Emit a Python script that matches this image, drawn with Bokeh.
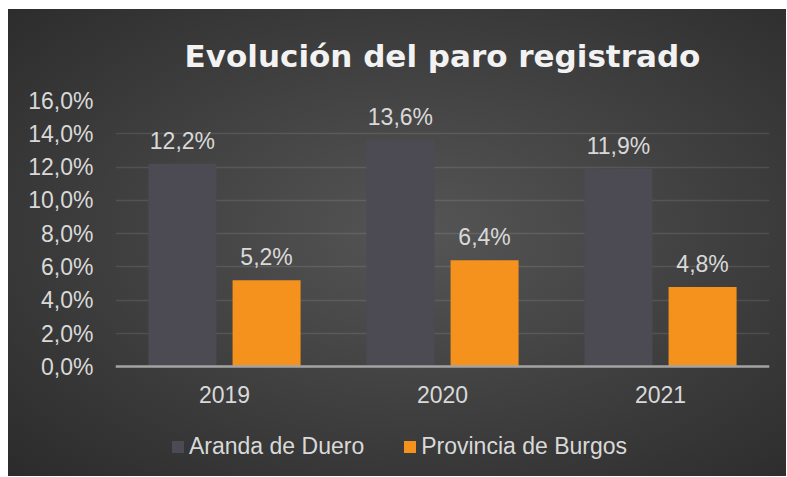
from bokeh.plotting import figure
from bokeh.models import (ColumnDataSource, FactorRange, FixedTicker, Legend,
                          LegendItem, Range1d)
from bokeh.transform import dodge
from bokeh.embed import file_html
from bokeh.resources import INLINE
from bokeh.core.properties import value

# ---- data ----
years = ["2019", "2020", "2021"]
aranda = [12.2, 13.6, 11.9]
burgos = [5.2, 6.4, 4.8]
series_names = ["Aranda de Duero", "Provincia de Burgos"]
y_ticks = [0, 2, 4, 6, 8, 10, 12, 14, 16]
y_tick_labels = ["0,0%", "2,0%", "4,0%", "6,0%", "8,0%", "10,0%", "12,0%", "14,0%", "16,0%"]
title_text = "Evolución del paro registrado"


def fmt(v):
    return f"{v:.1f}".replace(".", ",") + "%"


src = ColumnDataSource(dict(
    year=years,
    aranda=aranda,
    burgos=burgos,
    aranda_lbl=[fmt(v) for v in aranda],
    burgos_lbl=[fmt(v) for v in burgos],
))

FONT = "Liberation Sans"
TXT = "#d9d9d9"
GRAY = "#4c4b54"
ORANGE = "#f5921e"

# frame spans from the 16% line down to the bottom of the figure; the value axis
# keeps 0..16 over the upper 267 px, the space below 0 holds the category labels
# and the legend.
p = figure(width=778, height=467,
           x_range=FactorRange(factors=years, range_padding=0),
           y_range=Range1d(-6.59, 16),
           output_backend="svg", toolbar_location=None,
           min_border_left=107, min_border_right=17,
           min_border_top=90, min_border_bottom=0)
p.margin = (9, 0, 0, 8)
p.styles = {"background": "radial-gradient(ellipse farthest-corner at 53% 48%, "
                          "#555555 0%, #2b2b2b 100%)"}
p.background_fill_alpha = 0
p.border_fill_alpha = 0
p.outline_line_color = None

p.title.text = title_text
p.title.align = "center"
p.title.text_font = "DejaVu Sans"
p.title.text_font_style = "bold"
p.title.text_font_size = "31px"
p.title.text_color = "#f2f2f2"
p.title.standoff = 53

BW = 0.312
OFF = 0.193
r1 = p.vbar(x=dodge("year", -OFF, range=p.x_range), top="aranda", width=BW,
            source=src, fill_color=GRAY, line_color=None)
r2 = p.vbar(x=dodge("year", OFF, range=p.x_range), top="burgos", width=BW,
            source=src, fill_color=ORANGE, line_color=None)

for col, lbl, off in (("aranda", "aranda_lbl", -OFF), ("burgos", "burgos_lbl", OFF)):
    p.text(x=dodge("year", off, range=p.x_range), y=col, text=lbl, source=src,
           text_align="center", text_baseline="middle", y_offset=-23,
           text_font=value(FONT), text_font_size="23px", text_color=TXT)

# y axis
p.yaxis.ticker = FixedTicker(ticks=y_ticks)
p.yaxis.major_label_overrides = {t: l for t, l in zip(y_ticks, y_tick_labels)}
p.yaxis.axis_line_color = None
p.yaxis.major_tick_line_color = None
p.yaxis.minor_tick_line_color = None
p.yaxis.major_tick_out = 0
p.yaxis.major_tick_in = 0
p.yaxis.major_label_standoff = 22
p.yaxis.major_label_text_font = FONT
p.yaxis.major_label_text_font_size = "23px"
p.yaxis.major_label_text_color = TXT

# x axis, drawn at the 0 line
p.xaxis.fixed_location = 0
p.xaxis.axis_line_color = "#a3a3a3"
p.xaxis.axis_line_width = 2.5
p.xaxis.major_tick_line_color = None
p.xaxis.minor_tick_line_color = None
p.xaxis.major_tick_out = 0
p.xaxis.major_tick_in = 0
p.xaxis.major_label_standoff = 19
p.xaxis.major_label_text_font = FONT
p.xaxis.major_label_text_font_size = "23px"
p.xaxis.major_label_text_color = TXT

# grid
p.xgrid.grid_line_color = None
p.ygrid.ticker = FixedTicker(ticks=y_ticks)
p.ygrid.grid_line_color = "white"
p.ygrid.grid_line_alpha = 0.1
p.ygrid.grid_line_width = 1.5

legend = Legend(items=[LegendItem(label=series_names[0], renderers=[r1]),
                       LegendItem(label=series_names[1], renderers=[r2])],
                orientation="horizontal", location=(55, 16),
                margin=0, padding=0, spacing=38,
                glyph_width=15, glyph_height=15, label_standoff=4,
                label_text_font=FONT, label_text_font_size="23px",
                label_text_color=TXT,
                background_fill_alpha=0, border_line_color=None)
p.add_layout(legend)

open("out.html", "w").write(file_html(p, INLINE))
